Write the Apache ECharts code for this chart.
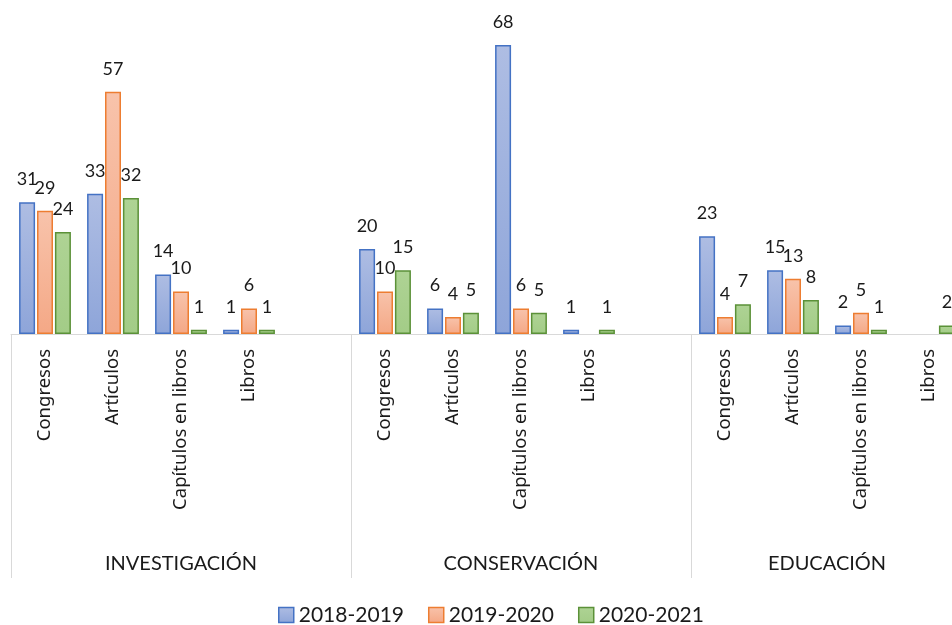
<!DOCTYPE html>
<html>
<head>
<meta charset="utf-8">
<script src="https://cdn.jsdelivr.net/npm/echarts@6/dist/echarts.min.js"></script>
<style>
  html, body { margin: 0; padding: 0; background: #fff; }
  #chart { width: 952px; height: 625px; }
</style>
</head>
<body>
<div id="chart"></div>
<script>
// categories (empty slot closes the first two groups, like the sheet)
const categories = [
  'Congresos', 'Artículos', 'Capítulos en libros', 'Libros', '',
  'Congresos', 'Artículos', 'Capítulos en libros', 'Libros', '',
  'Congresos', 'Artículos', 'Capítulos en libros', 'Libros'
]
const groups = ['INVESTIGACIÓN', 'CONSERVACIÓN', 'EDUCACIÓN']
const groupSizes = [5, 5, 4]

const seriesNames = ['2018-2019', '2019-2020', '2020-2021']
const v2018 = [31, 33, 14, 1, null, 20, 6, 68, 1, null, 23, 15, 2, null]
const v2019 = [29, 57, 10, 6, null, 10, 4, 6, null, null, 4, 13, 5, null]
const v2020 = [24, 32, 1, 1, null, 15, 5, 5, 1, null, 7, 8, 1, 2]

// group dividers + label centres, in slot units
const dividers = []
const centers = []
let start = 0
groupSizes.forEach(n => {
  dividers.push(start)
  centers.push(start + n / 2)
  start += n
})

const fills = [
  ['#aebde3', '#8ea5d9', '#4472c4'],
  ['#f8c3ab', '#f4a886', '#ed7d31'],
  ['#aed394', '#a3cc87', '#5b9138']
]

function grad(c) {
  return new echarts.graphic.LinearGradient(0, 0, 0, 1, [
    { offset: 0, color: c[0] },
    { offset: 1, color: c[1] }
  ])
}

const chart = echarts.init(document.getElementById('chart'))

const series = [v2018, v2019, v2020].map((vals, i) => ({
  name: seriesNames[i],
  type: 'bar',
  xAxisIndex: 0,
  data: vals,
  barWidth: 16,
  barGap: '12%',
  itemStyle: {
    color: grad(fills[i]),
    borderColor: fills[i][2],
    borderWidth: 1.5
  },
  label: {
    show: true,
    position: 'top',
    distance: 14,
    fontFamily: 'Lato',
    fontSize: 18,
    color: '#1a1a1a'
  }
}))

const option = {
  animation: false,
  grid: {
    left: 11, top: 36.5, width: 952, height: 297.5,
    containLabel: false,
    outerBoundsMode: 'none'
  },
  legend: {
    left: 278,
    top: 604.5,
    padding: 0,
    icon: 'rect',
    itemWidth: 15,
    itemHeight: 15,
    itemGap: 24,
    textStyle: { fontFamily: 'Lato', fontSize: 21, color: '#1a1a1a' },
    data: seriesNames.map((n, i) => ({
      name: n,
      itemStyle: { color: grad(fills[i]), borderColor: fills[i][2], borderWidth: 1.5 }
    }))
  },
  xAxis: [
    {
      type: 'category',
      data: categories,
      axisLine: { lineStyle: { color: '#d9d9d9', width: 1 } },
      axisTick: { show: false },
      axisLabel: {
        rotate: 90,
        interval: 0,
        margin: 15,
        fontFamily: 'Noto Sans',
        fontSize: 18.5,
        color: '#1a1a1a'
      }
    },
    {
      type: 'value',
      position: 'bottom',
      min: 0,
      max: categories.length,
      axisLine: { show: false },
      splitLine: { show: false },
      axisTick: {
        show: true,
        customValues: dividers,
        length: 244,
        lineStyle: { color: '#d9d9d9', width: 1 }
      },
      axisLabel: {
        customValues: centers,
        margin: 220,
        fontFamily: 'Lato',
        fontSize: 20,
        color: '#1a1a1a',
        formatter: v => groups[centers.indexOf(v)] || ''
      }
    }
  ],
  yAxis: {
    type: 'value',
    min: 0,
    max: 70,
    show: false,
    splitLine: { show: false }
  },
  series
}

chart.setOption(option)
</script>
</body>
</html>
